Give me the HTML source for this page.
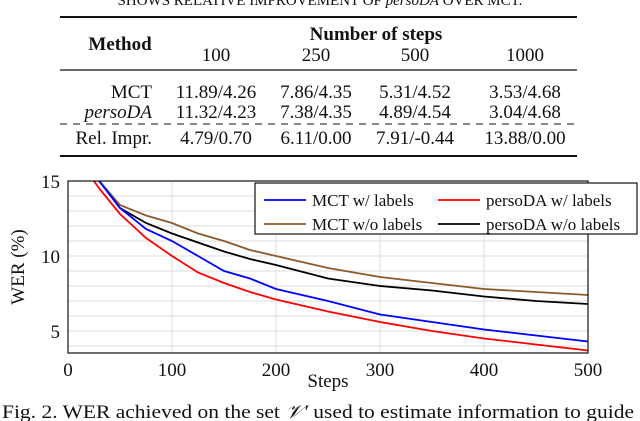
<!DOCTYPE html>
<html><head><meta charset="utf-8"><style>
body{margin:0;width:640px;height:421px;background:#fff;overflow:hidden;font-family:"Liberation Serif",serif;}
svg{position:absolute;left:0;top:0}
text{font-family:"Liberation Serif",serif;fill:#111}
</style></head><body>
<svg width="640" height="421">
<g font-size="19">
<text x="320" y="5" text-anchor="middle" font-size="15">SHOWS RELATIVE IMPROVEMENT OF <tspan font-style="italic">persoDA</tspan> OVER MCT.</text>
<line x1="60" x2="577" y1="17" y2="17" stroke="#111" stroke-width="2"/>
<text x="120" y="50" text-anchor="middle" font-weight="bold">Method</text>
<text x="376" y="40" text-anchor="middle" font-weight="bold">Number of steps</text>
<text x="216" y="61" text-anchor="middle">100</text><text x="316" y="61" text-anchor="middle">250</text><text x="415" y="61" text-anchor="middle">500</text><text x="525" y="61" text-anchor="middle">1000</text>
<line x1="60" x2="577" y1="70" y2="70" stroke="#111" stroke-width="1.3"/>
<text x="152" y="98" text-anchor="end">MCT</text>
<text x="216" y="98" text-anchor="middle">11.89/4.26</text><text x="316" y="98" text-anchor="middle">7.86/4.35</text><text x="415" y="98" text-anchor="middle">5.31/4.52</text><text x="525" y="98" text-anchor="middle">3.53/4.68</text>
<text x="152" y="118" text-anchor="end" font-style="italic">persoDA</text>
<text x="216" y="118" text-anchor="middle">11.32/4.23</text><text x="316" y="118" text-anchor="middle">7.38/4.35</text><text x="415" y="118" text-anchor="middle">4.89/4.54</text><text x="525" y="118" text-anchor="middle">3.04/4.68</text>
<line x1="60" x2="577" y1="124" y2="124" stroke="#111" stroke-width="1" stroke-dasharray="7,6"/>
<text x="152" y="144" text-anchor="end">Rel. Impr.</text>
<text x="216" y="144" text-anchor="middle">4.79/0.70</text><text x="316" y="144" text-anchor="middle">6.11/0.00</text><text x="415" y="144" text-anchor="middle">7.91/-0.44</text><text x="525" y="144" text-anchor="middle">13.88/0.00</text>
<line x1="60" x2="577" y1="156" y2="156" stroke="#111" stroke-width="2"/>
</g>
<g id="chart"></g>
<text x="318" y="418" text-anchor="middle" font-size="19" textLength="632" lengthAdjust="spacingAndGlyphs">Fig. 2.  WER achieved on the set <tspan font-style="italic">𝒱′</tspan> used to estimate information to guide</text>
</svg>
<script>
const steps=[25,30,50,75,100,125,150,175,200,250,300,350,400,450,500];
const mctW=[null,15,13.2,11.8,11.0,10.0,9.0,8.5,7.8,7.0,6.1,5.6,5.1,4.7,4.3];
const persoW=[15,14.5,12.8,11.2,10.0,8.9,8.2,7.6,7.1,6.3,5.6,5.0,4.5,4.1,3.7];
const mctWo=[null,15,13.4,12.7,12.2,11.5,11.0,10.4,10.0,9.2,8.6,8.2,7.8,7.6,7.4];
const persoWo=[null,15,13.2,12.2,11.5,10.9,10.3,9.8,9.4,8.5,8.0,7.7,7.3,7.0,6.8];
const xTicks=[0,100,200,300,400,500];
const yTicks=[5,10,15];
const NS="http://www.w3.org/2000/svg";
const g=document.getElementById('chart');
const X0=68,X1=588,YT=181,YB=353,YMAX=15;
const sx=v=>X0+(v-0)/500*(X1-X0);
const sy=v=>YT+(YMAX-v)*15;
function el(t,a){const e=document.createElementNS(NS,t);for(const k in a)e.setAttribute(k,a[k]);g.appendChild(e);return e;}
for(let v=4;v<=15;v++){const l=el('line',{x1:X0,x2:X1,y1:sy(v),y2:sy(v),stroke:'#ddd','stroke-width':1});

}
xTicks.forEach(v=>{const l=el('line',{x1:sx(v),x2:sx(v),y1:YT,y2:YB,stroke:'#ddd','stroke-width':1});


const t=el('text',{x:sx(v),y:YB+23,'text-anchor':'middle','font-size':19});t.textContent=v;

});
yTicks.forEach(v=>{const t=el('text',{x:X0-8,y:sy(v)+7,'text-anchor':'end','font-size':19});t.textContent=v;

});
const series=[[mctWo,'#8B5A2B','mct-wo-labels-line'],[persoWo,'#000','persoda-wo-labels-line'],[mctW,'#0000ff','mct-w-labels-line'],[persoW,'#ff0000','persoda-w-labels-line']];
series.forEach(([d,c,n])=>{const pts=[];d.forEach((v,i)=>{if(v!==null)pts.push(sx(steps[i])+','+sy(v));});
const p=el('polyline',{points:pts.join(' '),fill:'none',stroke:c,'stroke-width':1.8});

});
const fr=el('rect',{x:X0,y:YT,width:X1-X0,height:YB-YT,fill:'none',stroke:'#111','stroke-width':1.2});


const yl=el('text',{x:0,y:0,'text-anchor':'middle','font-size':19,transform:`translate(24,${(YT+YB)/2}) rotate(-90)`});yl.textContent='WER (%)';


const xl=el('text',{x:328,y:387,'text-anchor':'middle','font-size':19});xl.textContent='Steps';


const lb=el('rect',{x:255,y:183,width:382,height:51,fill:'#fff',stroke:'#111','stroke-width':1.2});


const leg=[['MCT w/ labels','#0000ff',264,200],['persoDA w/ labels','#ff0000',438,200],['MCT w/o labels','#8B5A2B',264,224],['persoDA w/o labels','#000',438,224]];
leg.forEach(([t,c,x,y])=>{const l=el('line',{x1:x,x2:x+42,y1:y,y2:y,stroke:c,'stroke-width':1.8});


const tx=el('text',{x:x+48,y:y+6,'font-size':17});tx.textContent=t;

});
</script>
</body></html>
